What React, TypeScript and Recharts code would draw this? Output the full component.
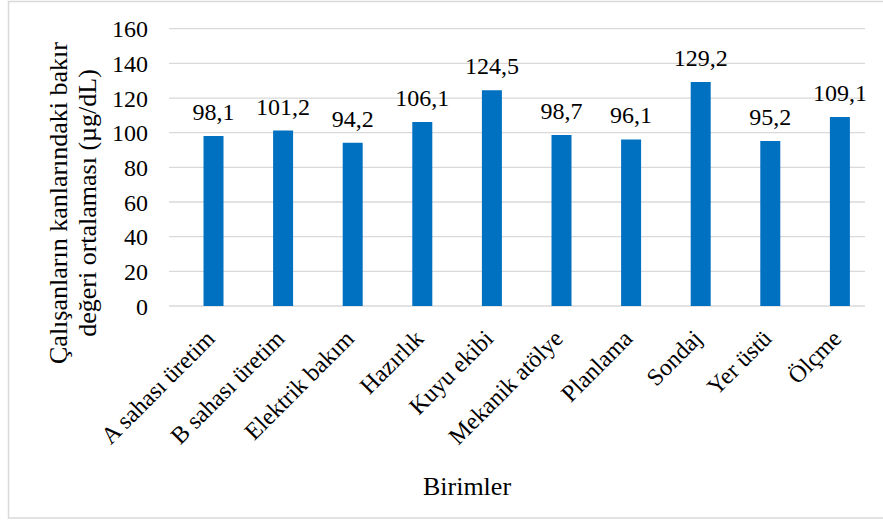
import React from 'react';
import { BarChart, Bar, XAxis, YAxis, CartesianGrid, LabelList } from 'recharts';

const FONT = 'Liberation Serif';

const categories = [
    'A sahası üretim',
    'B sahası üretim',
    'Elektrik bakım',
    'Hazırlık',
    'Kuyu ekibi',
    'Mekanik atölye',
    'Planlama',
    'Sondaj',
    'Yer üstü',
    'Ölçme',
];
const values = [98.1, 101.2, 94.2, 106.1, 124.5, 98.7, 96.1, 129.2, 95.2, 109.1];
const yTicks = [0, 20, 40, 60, 80, 100, 120, 140, 160];

const data = categories.map((name, i) => ({ name, value: values[i] }));

const textStyle = { fontFamily: FONT, fontSize: 24, fill: '#000' };

// rotated category labels, anchored at their end just under the bar
const XTick = ({ x, y, payload }: any) => {
    const tx = x + 3;
    const ty = y + 34;
    return (
        <text x={tx} y={ty} transform={`rotate(-45, ${tx}, ${ty})`} textAnchor="end" style={textStyle}>
            {payload.value}
        </text>
    );
};

const App: React.FC = () => {
    return (
        <div style={{ position: 'absolute', left: 0, top: 0, width: 883, height: 521, background: '#fff', fontFamily: FONT }}>
            <BarChart
                width={883}
                height={521}
                data={data}
                margin={{ top: 28.7, right: 8.5, bottom: 185, left: 118.5 }}
                style={{ fontFamily: FONT }}
            >
                <CartesianGrid vertical={false} stroke="#D9D9D9" strokeWidth={1.3} x={169} width={696} />
                <XAxis
                    dataKey="name"
                    axisLine={false}
                    tickLine={false}
                    tickSize={0}
                    tickMargin={0}
                    height={30}
                    interval={0}
                    tick={<XTick />}
                />
                <YAxis
                    domain={[0, 160]}
                    ticks={yTicks}
                    width={60}
                    axisLine={false}
                    tickLine={false}
                    tickSize={0}
                    tickMargin={30.5}
                    tick={{ style: textStyle, fontFamily: FONT, fontSize: 24, fill: '#000' }}
                />
                <Bar dataKey="value" fill="#0070C0" barSize={20} isAnimationActive={false}>
                    <LabelList
                        dataKey="value"
                        position="top"
                        offset={16}
                        formatter={(v: any) => Number(v).toFixed(1).replace('.', ',')}
                        fontFamily={FONT}
                        fontSize={24}
                        fill="#000"
                        style={textStyle}
                    />
                </Bar>
            </BarChart>

            {/* border + axis titles */}
            <svg width={883} height={521} style={{ position: 'absolute', left: 0, top: 0, pointerEvents: 'none' }}>
                <rect x={8.5} y={1.5} width={880} height={516.5} fill="none" stroke="#D9D9D9" strokeWidth={1.5} />
                <text transform="translate(0, 203) rotate(-90)" textAnchor="middle" style={{ ...textStyle, fontSize: 26 }}>
                    <tspan x={0} y={67}>Çalışanların kanlarındaki bakır</tspan>
                    <tspan x={0} y={96}>değeri ortalaması (µg/dL)</tspan>
                </text>
                <text x={467} y={495} textAnchor="middle" style={{ ...textStyle, fontSize: 26 }}>
                    Birimler
                </text>
            </svg>
        </div>
    );
};

export default App;
